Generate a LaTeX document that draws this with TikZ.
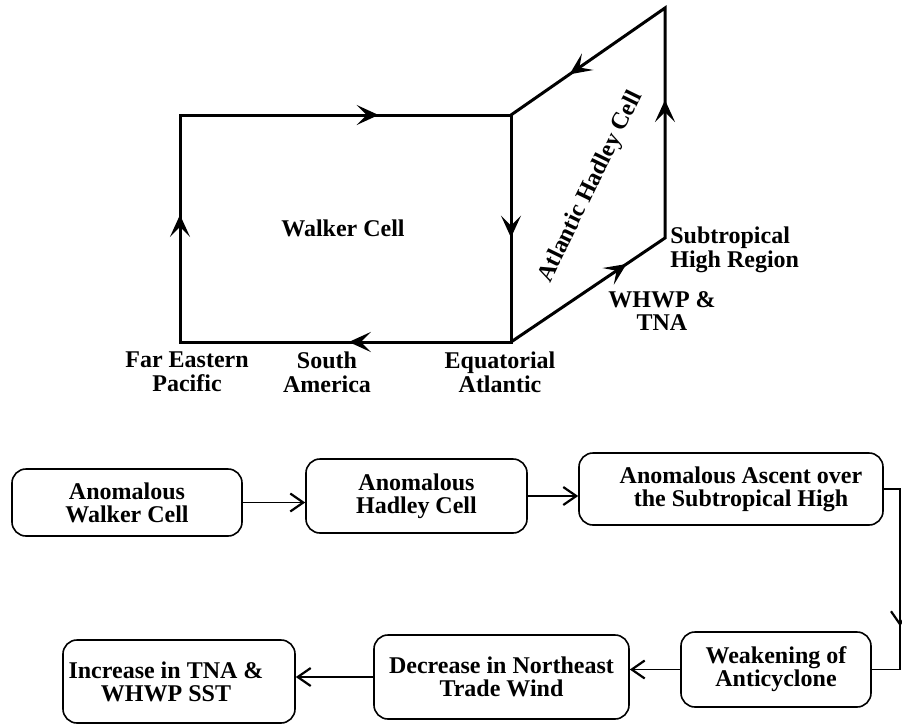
\documentclass[tikz,border=0pt]{standalone}
\usepackage{fontspec}
\setmainfont{Liberation Serif}
\usetikzlibrary{arrows.meta,decorations.markings}

\tikzset{
  lbl/.style={font=\bfseries\fontsize{12}{11.8}\selectfont, align=center, inner sep=0pt},
  cellline/.style={line width=1.5pt, line join=miter},
  cellmark/.style={cellline, postaction={decorate}, decoration={markings,
      mark=at position #1 with {\arrow{Stealth[length=11pt,width=10pt,inset=5pt]}}}},
  flowbox/.style={draw, line width=0.8pt, rounded corners=7pt, inner sep=0pt,
      font=\bfseries\fontsize{12}{11.5}\selectfont, align=center},
  flowline/.style={line width=0.8pt},
  flowarrow/.style={flowline, -{Straight Barb[length=6.5pt,width=9pt,line width=1.1pt]}},
  flowmark/.style={flowline, postaction={decorate}, decoration={markings,
      mark=at position #1 with {\arrow{Straight Barb[length=6.5pt,width=9pt,line width=1.1pt]}}}}
}

\begin{document}
\begin{tikzpicture}[x=0.5pt,y=-0.5pt]
   \useasboundingbox (0,0) rectangle (902,724);

   % corners of the two cells
   \coordinate (FE) at (180,342);
   \coordinate (FEtop) at (180,115);
   \coordinate (EA) at (511,342);
   \coordinate (EAtop) at (511,115);
   \coordinate (ST) at (665,238);
   \coordinate (STtop) at (665,8);

   \draw [cellline] (FE) -- (FEtop) -- (EAtop) -- (EA) -- cycle;
   \draw [cellline] (EA) -- (ST) -- (STtop) -- (EAtop);

   \path [cellmark=0.6] (FEtop) -- (EAtop);
   \path [cellmark=0.54] (EAtop) -- (EA);
   \path [cellmark=0.49] (EA) -- (FE);
   \path [cellmark=0.56] (FE) -- (FEtop);
   \path [cellmark=0.75] (EA) -- (ST);
   \path [cellmark=0.6] (ST) -- (STtop);
   \path [cellmark=0.62] (STtop) -- (EAtop);

   \node (walker) at (343,228) [lbl] {Walker Cell};
   \node (hadley) at (591,187) [lbl,rotate=64] {Atlantic Hadley Cell};
   \node (fareast) at (187,372) [lbl] {Far Eastern\\Pacific};
   \node (southam) at (327,372) [lbl] {South\\America};
   \node (eqatl) at (500,372) [lbl] {Equatorial\\Atlantic};
   \node (subhigh) at (670,250) [lbl,anchor=west,align=left] {Subtropical\\High Region};
   \node (whwp) at (662,311) [lbl] {WHWP \&\\TNA};

   % chain of boxes
   \node (walkerbox) at (127,502.5) [flowbox,minimum width=115pt,minimum height=33.5pt] {Anomalous\\Walker Cell};
   \node (hadleybox) at (416.5,496) [flowbox,minimum width=110.5pt,minimum height=37pt] {Anomalous\\Hadley Cell};
   \node (ascentbox) at (731,489) [flowbox,minimum width=152pt,minimum height=36pt] {\hspace*{10pt}Anomalous Ascent over\\\hspace*{10pt}the Subtropical High};
   \node (weakbox) at (776,669.5) [flowbox,minimum width=95pt,minimum height=37.5pt] {Weakening of\\Anticyclone};
   \node (decreasebox) at (501.5,677) [flowbox,minimum width=127.5pt,minimum height=42pt] {Decrease in Northeast\\Trade Wind};
   \node (increasebox) at (179,681.5) [flowbox,minimum width=116pt,minimum height=41.5pt] {Increase in TNA \&\hspace*{13pt}\\WHWP SST\hspace*{13pt}};

   \coordinate (rside) at (900,0);

   \draw [flowarrow] (walkerbox.east) -- (walkerbox.east -| hadleybox.west);
   \draw [flowarrow] (hadleybox.east) -- (hadleybox.east -| ascentbox.west);
   \draw [flowline] (ascentbox.east) -- (ascentbox.east -| rside) -- (weakbox.east -| rside) -- (weakbox.east);
   \path [flowmark=0.76] (ascentbox.east -| rside) -- (weakbox.east -| rside);
   \draw [flowarrow] (weakbox.west) -- (weakbox.west -| decreasebox.east);
   \draw [flowarrow] (decreasebox.west) -- (decreasebox.west -| increasebox.east);

\end{tikzpicture}
\end{document}
